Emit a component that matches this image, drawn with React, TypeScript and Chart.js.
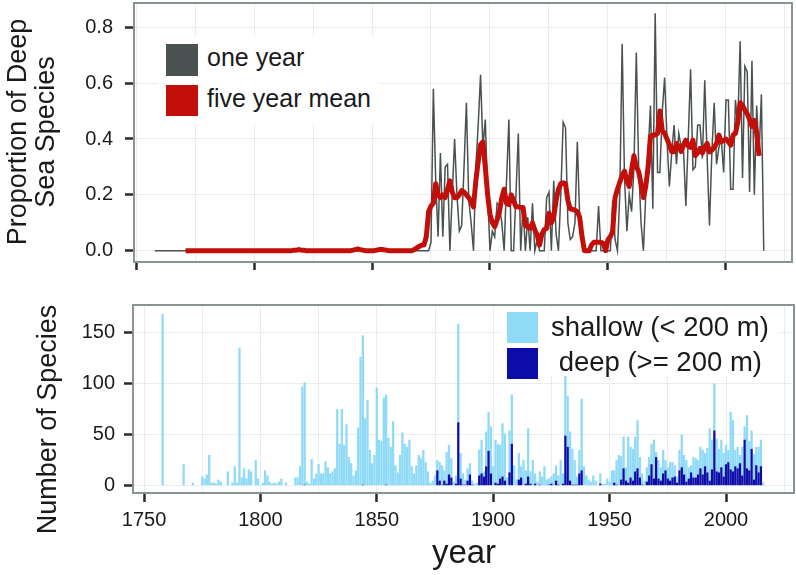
import React, { useEffect, useRef } from "react";
import { Chart, registerables } from "chart.js";

Chart.register(...registerables);

const FONT = '"Liberation Sans", Arial, Helvetica, sans-serif';
const FIRST_YEAR = 1758;

// proportion of deep-sea species, one year (1758..2016)
const ONE_YEAR = [
  0, 0, 0, 0, 0, 0, 0, 0, 0, 0,
  0, 0, 0, 0, 0, 0, 0, 0, 0, 0,
  0, 0, 0, 0, 0, 0, 0, 0, 0, 0,
  0, 0, 0, 0, 0, 0, 0, 0, 0, 0,
  0, 0, 0, 0, 0, 0, 0, 0, 0, 0,
  0, 0, 0, 0, 0, 0, 0, 0, 0, 0,
  0, 0.01, 0, 0, 0, 0, 0, 0, 0, 0,
  0, 0, 0, 0, 0, 0, 0, 0, 0, 0,
  0, 0, 0, 0, 0, 0, 0.007, 0, 0, 0,
  0, 0, 0, 0, 0, 0, 0.011, 0, 0, 0,
  0, 0, 0, 0, 0, 0, 0, 0, 0, 0,
  0, 0, 0, 0, 0, 0, 0, 0.03, 0.58, 0.25,
  0.05, 0.35, 0.05, 0.30, 0.31, 0, 0.20, 0.40, 0.20, 0.07,
  0.09, 0.30, 0.53, 0.18, 0.10, 0, 0.30, 0.45, 0.63, 0.37,
  0.47, 0.20, 0, 0.07, 0.05, 0.17, 0.16, 0.10, 0, 0.25,
  0.47, 0, 0, 0.20, 0.42, 0, 0.16, 0, 0.12, 0,
  0.17, 0, 0.04, 0, 0, 0, 0.19, 0.21, 0, 0.25,
  0.06, 0, 0.20, 0.46, 0.44, 0.10, 0.04, 0.05, 0.10, 0.39,
  0.12, 0.02, 0, 0, 0, 0, 0, 0, 0.16, 0,
  0, 0, 0, 0, 0.18, 0.04, 0, 0.20, 0.74, 0.26,
  0.07, 0.20, 0.14, 0.30, 0.71, 0.30, 0.10, 0, 0.20, 0.35,
  0.52, 0.15, 0.85, 0.28, 0.28, 0.50, 0.62, 0.40, 0.23, 0.35,
  0.45, 0.31, 0.42, 0.37, 0.36, 0.16, 0.40, 0.65, 0.29, 0.30,
  0.45, 0.45, 0.33, 0.61, 0.34, 0.09, 0.35, 0.53, 0.31, 0.37,
  0.40, 0.28, 0.54, 0.54, 0.22, 0.22, 0.54, 0.45, 0.75, 0.26,
  0.66, 0.64, 0.21, 0.68, 0.20, 0.52, 0.34, 0.56, 0,
];

// five year mean (1758..2016)
const FIVE_YEAR = [
  null, null, null, null, null, null, null, null, null, null,
  null, null, null, 0, 0, 0, 0, 0, 0, 0,
  0, 0, 0, 0, 0, 0, 0, 0, 0, 0,
  0, 0, 0, 0, 0, 0, 0, 0, 0, 0,
  0, 0, 0, 0, 0, 0, 0, 0, 0, 0,
  0, 0, 0, 0, 0, 0, 0, 0, 0, 0.002,
  0.002, 0.004, 0.002, 0.002, 0, 0, 0, 0, 0, 0,
  0, 0, 0, 0, 0, 0, 0, 0, 0, 0,
  0, 0, 0, 0, 0.002, 0.004, 0.006, 0.004, 0.002, 0,
  0, 0, 0, 0, 0.002, 0.004, 0.004, 0.003, 0.002, 0,
  0, 0, 0, 0, 0, 0, 0, 0, 0, 0,
  0.005, 0.01, 0.015, 0.02, 0.02, 0.05, 0.14, 0.16, 0.17, 0.24,
  0.20, 0.19, 0.20, 0.19, 0.22, 0.25, 0.21, 0.19, 0.19, 0.20,
  0.215, 0.21, 0.20, 0.19, 0.175, 0.157, 0.25, 0.32, 0.38, 0.39,
  0.30, 0.20, 0.13, 0.10, 0.086, 0.11, 0.14, 0.19, 0.22, 0.17,
  0.165, 0.20, 0.18, 0.157, 0.157, 0.155, 0.155, 0.09, 0.085, 0.08,
  0.10, 0.074, 0.056, 0.02, 0.06, 0.075, 0.08, 0.134, 0.10, 0.12,
  0.18, 0.22, 0.24, 0.243, 0.24, 0.18, 0.15, 0.148, 0.145, 0.14,
  0.12, 0.05, 0, 0, 0, 0.02, 0.03, 0.03, 0.03, 0.03,
  0.026, 0, 0.04, 0.05, 0.07, 0.19, 0.22, 0.245, 0.27, 0.285,
  0.25, 0.23, 0.29, 0.34, 0.30, 0.283, 0.24, 0.19, 0.23, 0.30,
  0.41, 0.414, 0.414, 0.42, 0.50, 0.43, 0.42, 0.40, 0.38, 0.354,
  0.354, 0.384, 0.372, 0.355, 0.38, 0.396, 0.375, 0.37, 0.396, 0.34,
  0.35, 0.366, 0.35, 0.37, 0.384, 0.354, 0.36, 0.37, 0.384, 0.414,
  0.39, 0.395, 0.40, 0.39, 0.378, 0.414, 0.42, 0.46, 0.53, 0.52,
  0.503, 0.49, 0.47, 0.445, 0.467, 0.42, 0.34, null, null,
];

// number of shallow species (< 200 m), 1758..2016
const SHALLOW = [
  168, 0, 0, 0, 0, 0, 0, 0, 0, 21,
  0, 0, 0, 3, 0, 0, 0, 9, 7, 11,
  30, 3, 3, 2, 6, 4, 0, 0, 14, 0,
  3, 19, 3, 135, 8, 17, 7, 16, 14, 0,
  25, 7, 0, 3, 15, 10, 4, 2, 3, 2,
  4, 7, 0, 3, 0, 0, 0, 8, 8, 19,
  97, 100, 4, 2, 26, 7, 12, 21, 12, 12,
  24, 18, 12, 14, 17, 75, 41, 75, 40, 60,
  28, 22, 10, 15, 57, 126, 146, 66, 84, 35,
  22, 30, 96, 45, 44, 86, 88, 47, 38, 63,
  20, 13, 30, 52, 41, 38, 45, 19, 12, 20,
  30, 27, 35, 23, 14, 3, 5, 10, 10, 18,
  19, 10, 31, 29, 19, 4, 8, 96, 25, 11,
  5, 12, 11, 4, 2, 3, 25, 33, 5, 34,
  38, 46, 19, 42, 39, 33, 52, 46, 8, 41,
  48, 20, 6, 26, 11, 25, 13, 47, 12, 25,
  10, 4, 13, 9, 19, 6, 6, 7, 12, 15,
  9, 25, 10, 61, 50, 48, 35, 24, 8, 23,
  70, 19, 10, 6, 4, 10, 5, 0, 10, 2,
  2, 7, 4, 15, 12, 24, 30, 23, 31, 13,
  45, 30, 31, 34, 47, 20, 11, 5, 14, 18,
  20, 38, 5, 18, 13, 23, 10, 11, 18, 15,
  11, 6, 20, 32, 19, 21, 11, 7, 20, 19,
  14, 21, 24, 13, 24, 51, 29, 46, 32, 23,
  27, 23, 19, 12, 56, 50, 16, 21, 8, 28,
  13, 52, 29, 18, 25, 18, 25, 26, 3,
];

// number of deep species (>= 200 m), 1758..2016
const DEEP = [
  0, 0, 0, 0, 0, 0, 0, 0, 0, 0,
  0, 0, 0, 0, 0, 0, 0, 0, 0, 0,
  0, 0, 0, 0, 0, 0, 0, 0, 0, 0,
  0, 0, 0, 0, 0, 0, 0, 0, 0, 0,
  0, 0, 0, 0, 0, 0, 0, 0, 0, 0,
  0, 0, 0, 0, 0, 0, 0, 0, 0, 0,
  0, 1, 0, 0, 0, 0, 0, 0, 0, 0,
  0, 0, 0, 0, 0, 0, 0, 0, 0, 0,
  0, 0, 0, 0, 0, 0, 1, 0, 0, 0,
  0, 0, 0, 0, 0, 0, 1, 0, 0, 0,
  0, 0, 0, 0, 0, 0, 0, 0, 0, 0,
  0, 0, 0, 0, 0, 0, 0, 0, 15, 5,
  1, 5, 2, 11, 8, 0, 2, 62, 7, 1,
  1, 5, 11, 1, 0, 0, 10, 12, 9, 19,
  34, 12, 0, 3, 2, 7, 9, 5, 0, 13,
  41, 0, 0, 6, 8, 0, 2, 9, 2, 0,
  2, 0, 1, 0, 0, 0, 1, 2, 0, 5,
  1, 0, 2, 49, 38, 5, 1, 1, 1, 12,
  15, 0, 0, 0, 0, 0, 0, 0, 2, 0,
  0, 0, 0, 0, 3, 1, 0, 6, 17, 5,
  3, 8, 5, 14, 17, 8, 1, 0, 4, 10,
  21, 7, 28, 7, 5, 12, 15, 7, 5, 8,
  9, 3, 15, 18, 11, 4, 7, 13, 8, 8,
  11, 17, 11, 19, 13, 5, 16, 54, 14, 13,
  18, 9, 21, 23, 16, 14, 19, 17, 22, 10,
  45, 17, 15, 36, 6, 20, 13, 19, 0,
];

const TOP_Y_TICKS = [0, 0.2, 0.4, 0.6, 0.8];
const BOTTOM_Y_TICKS = [0, 50, 100, 150];
const X_TICKS = [1750, 1800, 1850, 1900, 1950, 2000];
const X_GRID = [1750, 1775, 1800, 1825, 1850, 1875, 1900, 1925, 1950, 1975, 2000, 2025];

const GRAY = "#4a5151";
const RED = "#c20f0a";
const SHALLOW_COLOR = "#8fdaf6";
const DEEP_COLOR = "#0c0ca8";
const GRID = "#ebeded";
const TICK = "#2a2a2a";
const BORDER = "#8a9494";
const TEXT = "#1a1a1a";

const borderPlugin = {
  id: "panelBorder",
  afterDatasetsDraw(chart: any) {
    const { ctx, chartArea: a } = chart;
    ctx.save();
    ctx.strokeStyle = BORDER;
    ctx.lineWidth = 2;
    ctx.strokeRect(a.left, a.top, a.right - a.left, a.bottom - a.top);
    ctx.restore();
  },
};

const tickFont = { family: FONT, size: 20 };

export default function App() {
  const topRef = useRef<HTMLCanvasElement>(null);
  const botRef = useRef<HTMLCanvasElement>(null);

  useEffect(() => {
    const years = ONE_YEAR.map((_, i) => FIRST_YEAR + i);
    const xTickColor = (c: any) =>
      c.tick && X_TICKS.includes(c.tick.value) ? TICK : "rgba(0,0,0,0)";

    const top = new Chart(topRef.current as HTMLCanvasElement, {
      type: "line",
      data: {
        datasets: [
          {
            label: "five year mean",
            data: years.map((y, i) => ({ x: y, y: FIVE_YEAR[i] })) as any,
            borderColor: RED,
            backgroundColor: RED,
            borderWidth: 5,
            pointRadius: 0,
            borderJoinStyle: "round",
            order: 0,
          },
          {
            label: "one year",
            data: years.map((y, i) => ({ x: y, y: ONE_YEAR[i] })) as any,
            borderColor: GRAY,
            backgroundColor: GRAY,
            borderWidth: 1.5,
            pointRadius: 0,
            order: 1,
          },
        ],
      },
      options: {
        responsive: false,
        animation: false,
        events: [],
        layout: { padding: { left: 0, top: 3, right: 4, bottom: 0 }, autoPadding: false },
        plugins: { legend: { display: false }, tooltip: { enabled: false } },
        scales: {
          x: {
            type: "linear",
            offset: false,
            min: 1749.15,
            max: 2027.97,
            afterBuildTicks: (s: any) => {
              s.ticks = X_GRID.map((v) => ({ value: v }));
            },
            ticks: { display: false, autoSkip: false },
            grid: { offset: false, color: GRID, lineWidth: 1, tickLength: 8, tickWidth: 2.5, tickColor: xTickColor },
            border: { display: false },
            afterFit: (s: any) => {
              s.height = 18;
              s.paddingLeft = 0;
              s.paddingRight = 0;
            },
          },
          y: {
            type: "linear",
            min: -0.0405,
            max: 0.887,
            afterBuildTicks: (s: any) => {
              s.ticks = TOP_Y_TICKS.map((v) => ({ value: v }));
            },
            ticks: {
              font: tickFont,
              color: TEXT,
              padding: 12,
              callback: (v: any) => Number(v).toFixed(1),
            },
            grid: { color: GRID, lineWidth: 1, tickLength: 9, tickWidth: 2.5, tickColor: TICK },
            border: { display: false },
            afterFit: (s: any) => {
              s.width = 134;
              s.paddingTop = 0;
              s.paddingBottom = 0;
            },
          },
        },
      } as any,
      plugins: [borderPlugin],
    });

    const bot = new Chart(botRef.current as HTMLCanvasElement, {
      type: "bar",
      data: {
        datasets: [
          {
            label: "deep (>= 200 m)",
            data: years.map((y, i) => ({ x: y, y: DEEP[i] })) as any,
            backgroundColor: DEEP_COLOR,
            borderWidth: 0,
          },
          {
            label: "shallow (< 200 m)",
            data: years.map((y, i) => ({ x: y, y: SHALLOW[i] })) as any,
            backgroundColor: SHALLOW_COLOR,
            borderWidth: 0,
          },
        ],
      },
      options: {
        responsive: false,
        animation: false,
        events: [],
        layout: { padding: { left: 0, top: 25, right: 2, bottom: 0 }, autoPadding: false },
        plugins: { legend: { display: false }, tooltip: { enabled: false } },
        datasets: { bar: { barPercentage: 0.98, categoryPercentage: 1 } },
        scales: {
          x: {
            type: "linear",
            stacked: true,
            offset: false,
            min: 1745.27,
            max: 2029.21,
            afterBuildTicks: (s: any) => {
              s.ticks = X_GRID.map((v) => ({ value: v }));
            },
            ticks: {
              font: tickFont,
              color: TEXT,
              padding: 6,
              autoSkip: false,
              maxRotation: 0,
              callback: (v: any) => (X_TICKS.includes(Number(v)) ? String(v) : ""),
            },
            grid: { offset: false, color: GRID, lineWidth: 1, tickLength: 9, tickWidth: 2.5, tickColor: xTickColor },
            border: { display: false },
            afterFit: (s: any) => {
              s.height = 82;
              s.paddingLeft = 0;
              s.paddingRight = 0;
            },
          },
          y: {
            type: "linear",
            stacked: true,
            min: -7.14,
            max: 176.7,
            afterBuildTicks: (s: any) => {
              s.ticks = BOTTOM_Y_TICKS.map((v) => ({ value: v }));
            },
            ticks: { font: tickFont, color: TEXT, padding: 9 },
            grid: { color: GRID, lineWidth: 1, tickLength: 9, tickWidth: 2.5, tickColor: TICK },
            border: { display: false },
            afterFit: (s: any) => {
              s.width = 133;
              s.paddingTop = 0;
              s.paddingBottom = 0;
            },
          },
        },
      } as any,
      plugins: [borderPlugin],
    });

    return () => {
      top.destroy();
      bot.destroy();
    };
  }, []);

  const abs = (o: any) => ({ position: "absolute" as const, ...o });

  return (
    <div
      style={{
        position: "fixed",
        left: 0,
        top: 0,
        width: 796,
        height: 575,
        background: "#fff",
        fontFamily: FONT,
        color: TEXT,
        overflow: "hidden",
      }}
    >
      <canvas ref={topRef} width={796} height={280} style={abs({ left: 0, top: 0, width: 796, height: 280 })} />
      <canvas ref={botRef} width={796} height={295} style={abs({ left: 0, top: 280, width: 796, height: 295 })} />

      {/* top y title */}
      <div
        style={abs({
          left: 31 - 150,
          top: 132 - 30,
          width: 300,
          height: 60,
          transform: "rotate(-90deg)",
          textAlign: "center",
          fontSize: 27,
          lineHeight: "28px",
          display: "flex",
          flexDirection: "column",
          justifyContent: "center",
          whiteSpace: "nowrap",
        })}
      >
        <div>Proportion of Deep</div>
        <div>Sea Species</div>
      </div>

      {/* bottom y title */}
      <div
        style={abs({
          left: 46.6 - 150,
          top: 419 - 13.5,
          width: 300,
          height: 27,
          transform: "rotate(-90deg)",
          textAlign: "center",
          fontSize: 27,
          lineHeight: "27px",
          whiteSpace: "nowrap",
        })}
      >
        Number of Species
      </div>

      {/* x title */}
      <div style={abs({ left: 364, top: 535, width: 200, textAlign: "center", fontSize: 33, lineHeight: "33px" })}>
        year
      </div>

      {/* top legend */}
      <div style={abs({ left: 158, top: 36, width: 222, height: 88, background: "#fff" })} />
      <div style={abs({ left: 166, top: 44, width: 32, height: 32, background: GRAY })} />
      <div style={abs({ left: 166, top: 85, width: 32, height: 31, background: RED })} />
      <div style={abs({ left: 207, top: 45, fontSize: 25, lineHeight: "25px", whiteSpace: "pre" })}>one year</div>
      <div style={abs({ left: 207, top: 86, fontSize: 25, lineHeight: "25px", whiteSpace: "pre" })}>five year mean</div>

      {/* bottom legend */}
      <div style={abs({ left: 500, top: 308, width: 280, height: 68, background: "#fff" })} />
      <div style={abs({ left: 507, top: 312, width: 31, height: 31, background: SHALLOW_COLOR })} />
      <div style={abs({ left: 507, top: 348, width: 31, height: 31, background: DEEP_COLOR })} />
      <div style={abs({ left: 551, top: 313, fontSize: 27.5, lineHeight: "27.5px", whiteSpace: "pre" })}>
        shallow (&lt; 200 m)
      </div>
      <div style={abs({ left: 551, top: 348, fontSize: 27.5, lineHeight: "27.5px", whiteSpace: "pre" })}>
        {" deep (>= 200 m)"}
      </div>
    </div>
  );
}
